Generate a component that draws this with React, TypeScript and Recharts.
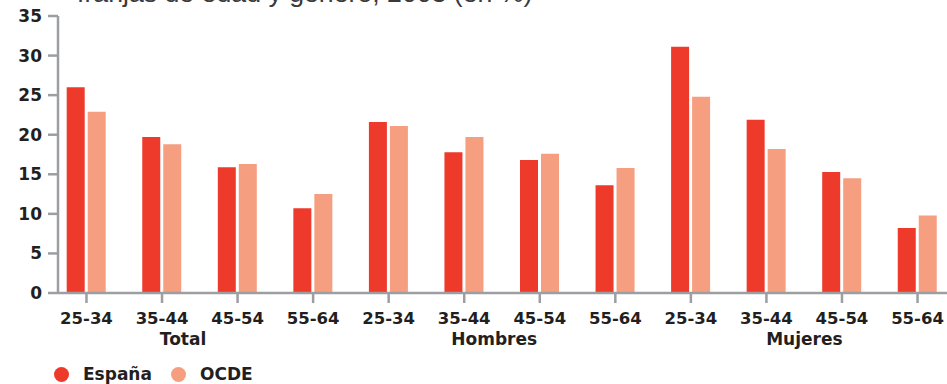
import React from 'react'
import { BarChart, Bar, XAxis, YAxis, Legend } from 'recharts'

// age bands, repeated for each block
const rangos = [
  '25-34', '35-44', '45-54', '55-64',
  '25-34', '35-44', '45-54', '55-64',
  '25-34', '35-44', '45-54', '55-64',
]
const grupos = ['Total', 'Hombres', 'Mujeres']

const espana = [26.0, 19.7, 15.9, 10.7, 21.6, 17.8, 16.8, 13.6, 31.1, 21.9, 15.3, 8.2]
const ocde = [22.9, 18.8, 16.3, 12.5, 21.1, 19.7, 17.6, 15.8, 24.8, 18.2, 14.5, 9.8]

const yTicks = [0, 5, 10, 15, 20, 25, 30, 35]
const titulo = 'franjas de edad y género, 2003 (en %)'

const ROJO = '#ee3a2b'
const SALMON = '#f59e80'
const GRIS = '#9d9ea2'
const TINTA = '#231f20'
const FONT = '"DejaVu Sans", sans-serif'

// horizontal shift of each block name, measured from the block's second tick
const GROUP_DX = [21, 30, 38]

const data = rangos.map((rango, i) => ({
  rango,
  grupo: grupos[Math.floor(i / 4)],
  espana: espana[i],
  ocde: ocde[i],
}))

const RangoTick = (props: any) => {
  const { x, y, index } = props
  const g = Math.floor(index / 4)
  return (
    <g>
      <text
        x={x}
        y={y + 18.5}
        textAnchor="middle"
        fontFamily={FONT}
        fontWeight={700}
        fontSize={16.5}
        fill={TINTA}
      >
        {rangos[index]}
      </text>
      {index % 4 === 1 && (
        <text
          x={x + GROUP_DX[g]}
          y={y + 40}
          textAnchor="middle"
          fontFamily={FONT}
          fontWeight={700}
          fontSize={17}
          fill={TINTA}
        >
          {grupos[g]}
        </text>
      )}
    </g>
  )
}

const Leyenda = (props: any) => {
  const items = props.payload || []
  const widths = [117, 100]
  return (
    <div
      style={{
        display: 'flex',
        alignItems: 'center',
        fontFamily: FONT,
        fontWeight: 700,
        fontSize: 17,
        color: TINTA,
      }}
    >
      {items.map((item: any, i: number) => (
        <div
          key={item.value}
          style={{ display: 'flex', alignItems: 'center', width: widths[i] }}
        >
          <svg width={15} height={15} style={{ marginRight: 14 }}>
            <circle cx={7.5} cy={7.5} r={7.5} fill={item.color} />
          </svg>
          <span>{item.value}</span>
        </div>
      ))}
    </div>
  )
}

export default function App() {
  return (
    <div style={{ position: 'absolute', left: 0, top: 0, width: 947, height: 384, background: '#fff' }}>
      <BarChart
        width={947}
        height={384}
        data={data}
        margin={{ top: 16, right: 0, bottom: 0, left: 0 }}
        barSize={18}
        barGap={3}
      >
        <XAxis
          dataKey="rango"
          height={91}
          interval={0}
          padding={{ left: -9.3, right: -8.3 }}
          axisLine={{ stroke: GRIS, strokeWidth: 2.5 }}
          tickLine={{ stroke: GRIS, strokeWidth: 2.5 }}
          tickSize={10}
          tickMargin={2}
          tick={<RangoTick />}
        />
        <YAxis
          width={58}
          domain={[0, 35]}
          ticks={yTicks}
          interval={0}
          axisLine={{ stroke: GRIS, strokeWidth: 2.5 }}
          tickLine={{ stroke: GRIS, strokeWidth: 2.5 }}
          tickSize={10}
          tickMargin={6}
          tick={{ fontFamily: FONT, fontWeight: 700, fontSize: 17, fill: TINTA }}
        />
        <Legend
          verticalAlign="middle"
          align="center"
          content={<Leyenda />}
          wrapperStyle={{ left: 54, top: 364, width: 'auto', height: 'auto' }}
        />
        <Bar dataKey="espana" name="España" fill={ROJO} isAnimationActive={false} />
        <Bar dataKey="ocde" name="OCDE" fill={SALMON} isAnimationActive={false} />
      </BarChart>
      {/* subtitle line sits partly above the top edge */}
      <svg
        width={947}
        height={20}
        style={{ position: 'absolute', left: 0, top: 0, pointerEvents: 'none' }}
      >
        <text
          x={77}
          y={2}
          fontFamily='"Liberation Sans", Arial, sans-serif'
          fontSize={26.7}
          fill="#3a3a3a"
        >
          {titulo}
        </text>
      </svg>
    </div>
  )
}
